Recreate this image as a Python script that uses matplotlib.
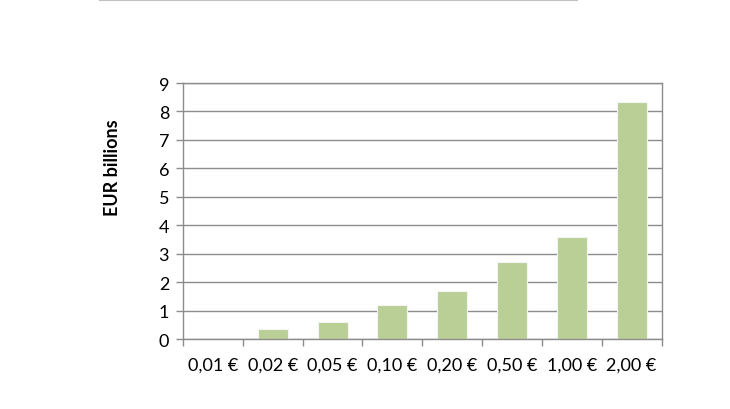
import matplotlib
matplotlib.use("Agg")
import matplotlib.pyplot as plt
from matplotlib.lines import Line2D
import numpy as np

categories = ["0,01 €", "0,02 €", "0,05 €", "0,10 €", "0,20 €", "0,50 €", "1,00 €", "2,00 €"]
values = [0.01, 0.36, 0.60, 1.19, 1.69, 2.71, 3.58, 8.34]
yticks = list(range(0, 10))

plt.rcParams['font.family'] = ['Lato', 'DejaVu Sans']

fig = plt.figure(figsize=(7.3, 4.1), dpi=100)
ax = fig.add_axes([0.2507, 0.1707, 0.9062 - 0.2507, 0.795 - 0.1707])

x = np.arange(len(categories))
ax.bar(x, values, width=0.5, color="#b9cf96", edgecolor="#f4f4f4", linewidth=0.8, zorder=3)

ax.set_xlim(-0.5, len(categories) - 0.5)
ax.set_ylim(0, 9)
ax.set_yticks(yticks)
ax.set_yticklabels([str(t) for t in yticks], fontsize=13)
ax.yaxis.grid(True, color="#8c8c8c", linewidth=1.0, zorder=0)
ax.set_axisbelow(True)

ax.set_xticks(x)
ax.set_xticklabels(categories, fontsize=13)
ax.tick_params(axis='x', which='major', length=0, pad=13)
ax.set_xticks(np.arange(-0.5, len(categories) + 0.5, 1), minor=True)
ax.tick_params(axis='x', which='minor', length=5, color="#8c8c8c", width=1.0)
ax.tick_params(axis='y', length=5, color="#8c8c8c", width=1.0, pad=5)

for s in ax.spines.values():
    s.set_color("#8c8c8c")
    s.set_linewidth(1.0)
    s.set_zorder(5)

ax.set_ylabel("EUR billions", fontsize=13, fontweight="bold")
ax.yaxis.set_label_coords(-0.13, 0.672)

fig.add_artist(Line2D([100 / 730, 577 / 730], [0.998, 0.998], color="#c0c0c0", linewidth=1.5,
                      transform=fig.transFigure))

fig.savefig("out.png", dpi=100)
